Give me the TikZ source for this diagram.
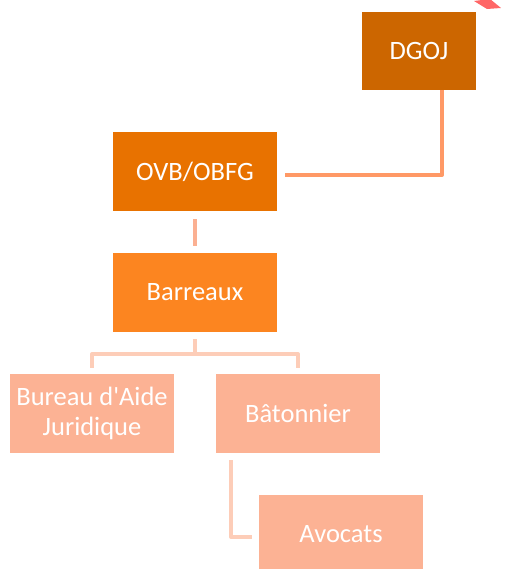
\documentclass[tikz,border=0pt]{standalone}
\usepackage{fontspec}
\setmainfont{Carlito}[Ligatures=TeXOff]
\definecolor{cDGOJ}{HTML}{CC6600}
\definecolor{cOVB}{HTML}{E87200}
\definecolor{cBar}{HTML}{FC8520}
\definecolor{cLight}{HTML}{FCB294}
\definecolor{lnA}{HTML}{FF9966}
\definecolor{lnB}{HTML}{FBB092}
\definecolor{lnC}{HTML}{FDCDB8}
\definecolor{cArrow}{HTML}{FF6666}
\begin{document}
\begin{tikzpicture}[x=1pt,y=-1pt,
  boxnode/.style={minimum width=164pt,minimum height=79pt,inner sep=0pt,text=white,font=\fontsize{26.5}{30}\selectfont,align=center},
  conn/.style={line width=4pt,line join=round}]
\useasboundingbox (0,0) rectangle (518,569);
\clip (0,0) rectangle (518,569);
\fill[cArrow] (474,1) -- (490,-1) -- (501,8) -- (487,9) -- cycle;
\node[boxnode,fill=cDGOJ,minimum width=114pt,minimum height=78pt] (dgoj) at (419,51) {DGOJ};
\node[boxnode,fill=cOVB] (ovb) at (195,171.5) {OVB/OBFG};
\node[boxnode,fill=cBar] (bar) at (195,292.5) {Barreaux};
\node[boxnode,fill=cLight] (bureau) at (92,413.5) {Bureau d'Aide\\Juridique};
\node[boxnode,fill=cLight] (baton) at (298,413.5) {Bâtonnier};
\node[boxnode,fill=cLight] (avocats) at (341,534.5) {Avocats};
\coordinate (c1) at (442,175);
\draw[conn,lnA] ([xshift=8pt]ovb.east |- c1) -- (c1) -- (c1 |- dgoj.south);
\draw[conn,lnB] ([yshift=-8pt]ovb.south) -- ([yshift=7pt]bar.north);
\coordinate (hb) at (195,354);
\draw[conn,lnC] ([yshift=-7pt]bar.south) -- (hb);
\draw[conn,lnC] ([yshift=6pt]bureau.north) -- (bureau.north |- hb) -- (baton.north |- hb) -- ([yshift=6pt]baton.north);
\coordinate (ab) at (231,537);
\draw[conn,lnC] ([yshift=-7pt]baton.south -| ab) -- (ab) -- ([xshift=-7pt]avocats.west |- ab);
\end{tikzpicture}
\end{document}
